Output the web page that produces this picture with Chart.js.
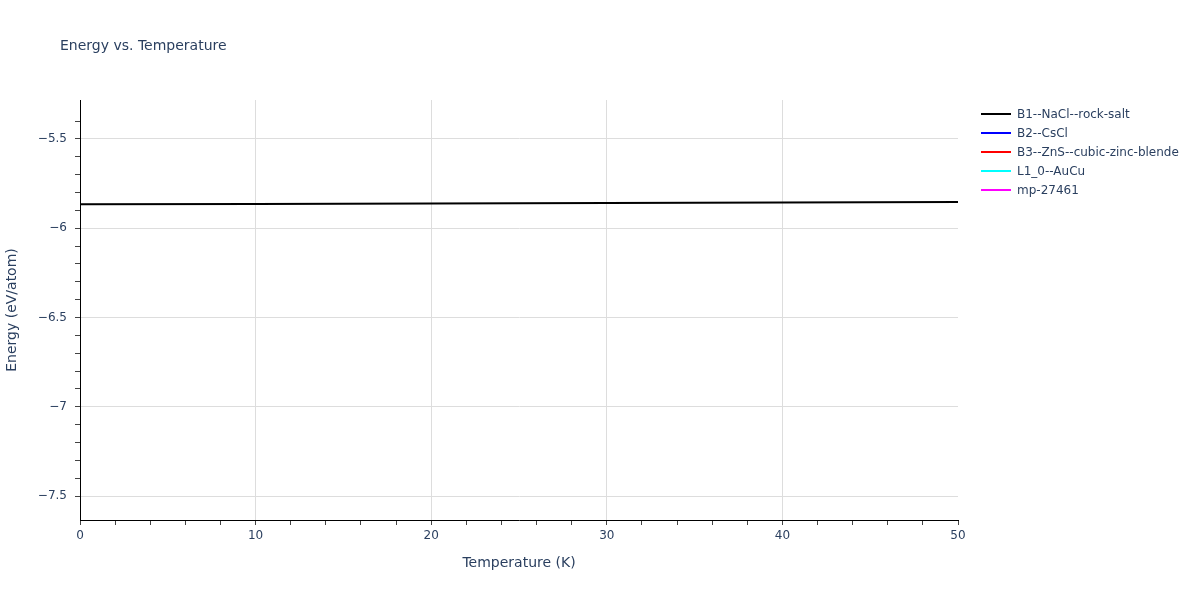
<!DOCTYPE html>
<html>
<head>
<meta charset="utf-8">
<script src="https://cdn.jsdelivr.net/npm/chart.js@4.4.0/dist/chart.umd.min.js"></script>
<style>
  body { margin: 0; background: #fff; font-family: "DejaVu Sans", sans-serif; }
  #wrap { position: relative; width: 1200px; height: 600px; }
  #title { position: absolute; left: 60px; top: 37px; font-size: 14px; color: #2a3f5f; }
  #legend { position: absolute; left: 981px; top: 104px; font-size: 12px; color: #2a3f5f; }
  #legend .row { height: 19px; display: flex; align-items: center; }
  #legend .swatch { width: 30px; height: 2px; margin-right: 6px; }
</style>
</head>
<body>
<div id="wrap">
  <canvas id="energyChart" width="1200" height="600"></canvas>
  <div id="title">Energy vs. Temperature</div>
  <div id="legend"></div>
</div>
<script>
// Series data
const temperatures = [0, 10, 20, 30, 40, 50];
const seriesNames = ['B1--NaCl--rock-salt', 'B2--CsCl', 'B3--ZnS--cubic-zinc-blende', 'L1_0--AuCu', 'mp-27461'];
const seriesColors = ['#000000', '#0000ff', '#ff0000', '#00ffff', '#ff00ff'];
const b1Energy = [-5.866, -5.864, -5.861, -5.859, -5.856, -5.853];
const b2Energy = [];
const b3Energy = [];
const l10Energy = [];
const mpEnergy = [];
const yTickLabels = [-5.5, -6, -6.5, -7, -7.5];

const seriesValues = [b1Energy, b2Energy, b3Energy, l10Energy, mpEnergy];

// Helper: is v a multiple of step
function isMultiple(v, step) {
  const q = v / step;
  return Math.abs(q - Math.round(q)) < 1e-6;
}

const datasets = seriesNames.map((name, i) => ({
  label: name,
  data: seriesValues[i].map((y, j) => ({ x: temperatures[j], y: y })),
  borderColor: seriesColors[i],
  backgroundColor: seriesColors[i],
  borderWidth: 2,
  pointRadius: 0,
  fill: false,
  order: seriesNames.length - i
}));

// HTML legend
const legendEl = document.getElementById('legend');
seriesNames.forEach((name, i) => {
  const row = document.createElement('div');
  row.className = 'row';
  row.innerHTML = `<span class="swatch" style="background:${seriesColors[i]}"></span><span>${name}</span>`;
  legendEl.appendChild(row);
});

const fontFamily = '"DejaVu Sans", sans-serif';
const textColor = '#2a3f5f';

new Chart(document.getElementById('energyChart').getContext('2d'), {
  type: 'line',
  data: { datasets: datasets },
  options: {
    responsive: false,
    animation: false,
    layout: { padding: { left: 0, right: 242, top: 100, bottom: 20 } },
    plugins: {
      legend: { display: false },
      tooltip: { enabled: false }
    },
    scales: {
      x: {
        type: 'linear',
        min: 0,
        max: 50,
        afterFit: (scale) => { scale.height = 60; },
        ticks: {
          stepSize: 2,
          color: textColor,
          font: { family: fontFamily, size: 12 },
          padding: 4,
          maxRotation: 0,
          autoSkip: false,
          callback: (v) => isMultiple(v, 10) ? String(v) : ''
        },
        grid: {
          color: (ctx) => (ctx.tick && isMultiple(ctx.tick.value, 10) && ctx.tick.value > 0 && ctx.tick.value < 50) ? '#dddddd' : 'rgba(0,0,0,0)',
          tickColor: '#444444',
          tickLength: 5,
          lineWidth: 1
        },
        border: { color: '#000000', width: 1 },
        title: {
          display: true,
          text: 'Temperature (K)',
          color: textColor,
          font: { family: fontFamily, size: 14 },
          padding: { top: 0, bottom: 8 }
        }
      },
      y: {
        type: 'linear',
        min: -7.634,
        max: -5.282,
        afterFit: (scale) => { scale.width = 80; },
        ticks: {
          stepSize: 0.1,
          color: textColor,
          font: { family: fontFamily, size: 12 },
          padding: 8,
          autoSkip: false,
          callback: (v) => {
            if (!isMultiple(v, 0.5)) return '';
            const r = Math.round(v * 10) / 10;
            return yTickLabels.includes(r) ? String(r).replace('-', '\u2212') : '';
          }
        },
        grid: {
          color: (ctx) => (ctx.tick && isMultiple(ctx.tick.value, 0.5)) ? '#dddddd' : 'rgba(0,0,0,0)',
          tickColor: (ctx) => (ctx.tick && isMultiple(ctx.tick.value, 0.1)) ? '#444444' : 'rgba(0,0,0,0)',
          tickLength: 5,
          lineWidth: 1
        },
        border: { color: '#000000', width: 1 },
        title: {
          display: true,
          text: 'Energy (eV/atom)',
          color: textColor,
          font: { family: fontFamily, size: 14 },
          padding: { top: 4, bottom: 0 }
        }
      }
    }
  }
});
</script>
</body>
</html>
